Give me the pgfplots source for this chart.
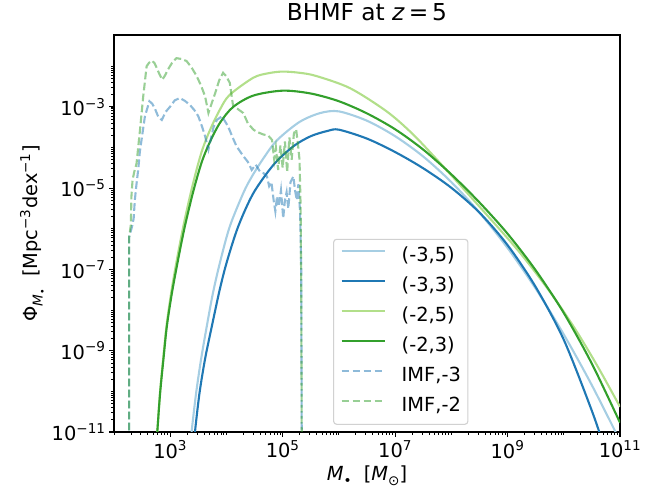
\documentclass[border=0pt]{standalone}
\usepackage{fontspec}
\setmainfont{DejaVu Sans}
\usepackage{graphicx}
\usepackage{pgfplots}
\pgfplotsset{compat=1.18}

\definecolor{lblue}{HTML}{A6CEE3}
\definecolor{dblue}{HTML}{1F78B4}
\definecolor{lgreen}{HTML}{B2DF8A}
\definecolor{dgreen}{HTML}{33A02C}

\newcommand{\sz}{\fontsize{19.4}{23}\selectfont}
\newcommand{\sub}[1]{\raisebox{-0.25em}{\scalebox{0.7}{#1}}}
\newcommand{\tl}[1]{10\textsuperscript{#1}}

\begin{document}
\begin{tikzpicture}
\begin{axis}[
    name=ax,
    xmode=log, ymode=log,
    scale only axis,
    width=506pt, height=397pt,
    xmin=1e2, xmax=1e11,
    ymin=1e-11, ymax=5.888e-2,
    axis line style={line width=1.1pt},
    tick pos=left,
    tick align=outside,
    xtick={1e2,1e3,1e4,1e5,1e6,1e7,1e8,1e9,1e10,1e11},
    ytick={1e-11,1e-10,1e-9,1e-8,1e-7,1e-6,1e-5,1e-4,1e-3,1e-2},
    xticklabel={\relax}, yticklabel={\relax},
    major tick length=2.8pt, minor tick length=2.8pt,
    every tick/.style={black, line width=0.8pt},
    extra x ticks={1e3,1e5,1e7,1e9,1e11},
    extra x tick labels={\tl{3},\tl{5},\tl{7},\tl{9},\tl{11}},
    extra y ticks={1e-11,1e-9,1e-7,1e-5,1e-3},
    extra y tick labels={\tl{−11},\tl{−9},\tl{−7},\tl{−5},\tl{−3}},
    extra tick style={major tick length=4.9pt, every tick/.style={black, line width=1.1pt}},
    xticklabel style={font=\sz},
    yticklabel style={font=\sz},
    title={BHMF at \textit{z}\,=\,5},
    title style={at={(axis description cs:0.5,1)}, anchor=base, yshift=8.3pt,
        font=\fontsize{23.3}{28}\selectfont},
    xlabel={\textit{M}\sub{•}\ \ [\textit{M}\sub{⊙}]},
    xlabel style={at={(axis description cs:0.5,0)}, anchor=center, yshift=-44pt, font=\sz},
    ylabel={Φ\sub{\textit{M}\sub{•}}\ \ [Mpc\textsuperscript{−3}dex\textsuperscript{−1}]},
    ylabel style={at={(axis description cs:-0.160,0.5)}, anchor=center, font=\sz},
    legend cell align=left,
    legend style={at={(0.433,0.018)}, anchor=south west,
        draw=black!18, line width=1.1pt, rounded corners=3pt,
        fill=white, fill opacity=0.8, text opacity=1,
        font=\sz, inner xsep=7pt, inner ysep=8pt,
        nodes={inner sep=0pt, text height=14.5pt, text depth=4.5pt},
        row sep=11pt},
    /tikz/every odd column/.append style={column sep=16pt},
    legend image code/.code={\draw[#1] (0pt,6pt) -- (43pt,6pt);},
]

% BH mass functions
\addplot[lblue, line width=2.1pt, smooth] coordinates {
(2.188e3,2.512e-12) (2.399e3,1e-11) (2.884e3,8.913e-11) (3.548e3,6.310e-10)
(4.467e3,3.981e-9) (5.754e3,2.630e-8) (7.762e3,1.585e-7) (1.148e4,1.148e-6)
(1.995e4,7.586e-6) (2.818e4,1.905e-5) (4.571e4,5.495e-5) (7.943e4,1.514e-4)
(1.995e5,4.266e-4) (4.677e5,7.079e-4) (1e6,7.762e-4) (3.162e6,4.571e-4)
(1e7,1.905e-4) (3.162e7,6.026e-5) (1e8,1.413e-5) (3.162e8,2.512e-6)
(1e9,3.388e-7) (3.162e9,3.388e-8) (1e10,2.512e-9) (3.162e10,1.413e-10)
(1e11,6.026e-12)};
\addlegendentry{(-3,5)}

\addplot[dblue, line width=2.1pt, smooth] coordinates {
(2.512e3,2.512e-12) (2.754e3,1e-11) (3.311e3,8.913e-11) (4.169e3,6.310e-10)
(5.495e3,3.981e-9) (7.586e3,3.162e-8) (1.023e4,1.585e-7) (1.622e4,1.148e-6)
(3.020e4,7.586e-6) (6.918e4,3.802e-5) (1.549e5,1.072e-4) (3.162e5,1.905e-4)
(6.310e5,2.570e-4) (1e6,2.754e-4) (3.162e6,1.660e-4) (1e7,7.762e-5)
(3.162e7,3.090e-5) (1e8,1.023e-5) (3.162e8,2.512e-6) (1e9,3.981e-7)
(3.162e9,3.715e-8) (1e10,1.862e-9) (3.162e10,3.311e-11) (5.623e10,3.162e-12)};
\addlegendentry{(-3,3)}

\addplot[lgreen, line width=2.1pt, smooth] coordinates {
(5.495e2,2.512e-12) (5.888e2,1e-11) (6.607e2,1e-10) (7.586e2,7.586e-10)
(8.710e2,4.786e-9) (1.072e3,3.467e-8) (1.380e3,2.512e-7) (1.820e3,1.738e-6)
(2.570e3,1.380e-5) (3.631e3,7.943e-5) (5.129e3,2.754e-4) (7.762e3,8.913e-4)
(1.148e4,1.995e-3) (3.020e4,5.248e-3) (5.623e4,6.761e-3) (1e5,7.413e-3)
(1.995e5,6.918e-3) (3.981e5,5.754e-3) (1.585e6,2.884e-3) (7.079e6,7.762e-4)
(1.995e7,2.239e-4) (5.495e7,5.129e-5) (2.138e8,6.457e-6) (1.122e9,4.898e-7)
(2.512e9,1.259e-7) (6.310e9,2.291e-8) (1.585e10,3.467e-9) (3.981e10,4.169e-10)
(1e11,4.169e-11)};
\addlegendentry{(-2,5)}

\addplot[dgreen, line width=2.1pt, smooth] coordinates {
(5.495e2,2.512e-12) (5.888e2,1e-11) (6.607e2,8.913e-11) (7.586e2,6.310e-10)
(8.710e2,3.981e-9) (1.072e3,2.630e-8) (1.380e3,1.738e-7) (1.820e3,1.148e-6)
(2.570e3,8.318e-6) (3.631e3,4.365e-5) (5.129e3,1.413e-4) (7.762e3,4.169e-4)
(1.318e4,1e-3) (3.020e4,1.905e-3) (1e5,2.512e-3) (3.162e5,2.138e-3)
(1e6,1.380e-3) (3.162e6,6.918e-4) (1e7,2.818e-4) (3.162e7,8.913e-5)
(1e8,2.188e-5) (3.162e8,4.467e-6) (1e9,7.586e-7) (3.162e9,9.550e-8)
(1e10,8.511e-9) (3.162e10,4.786e-10) (1e11,1.698e-11)};
\addlegendentry{(-2,3)}

% IMF-based estimates
\addplot[dblue, draw opacity=0.5, line width=2.1pt, dash pattern=on 7.7pt off 3.3pt] coordinates {
(186.2,3.162e-12) (186.2,6.310e-7) (208.9,1.122e-6) (223.9,1.820e-6) (234.4,5.012e-6)
(251.2,1.259e-5) (269.2,2.818e-5) (288.4,7.943e-5) (309.0,1.549e-4) (354.8,5.888e-4)
(426.6,1.380e-3) (478.6,1.202e-3) (537.0,8.913e-4) (616.6,5.623e-4) (707.9,4.786e-4)
(831.8,7.586e-4) (1000,1.023e-3) (1202,1.445e-3) (1479,1.660e-3) (1820,1.413e-3)
(2239,1.122e-3) (2692,8.318e-4) (3162,5.888e-4) (3715,3.162e-4) (4169,1.905e-4)
(4786,8.913e-5) (5248,1.585e-4) (5888,3.162e-4) (6761,4.786e-4) (8318,5.888e-4)
(1.072e4,3.311e-4) (1.259e4,1.905e-4) (1.514e4,1.072e-4) (1.995e4,6.166e-5)
(2.399e4,4.467e-5) (2.818e4,2.818e-5) (3.311e4,3.802e-5) (3.981e4,2.512e-5)
(4.571e4,2.344e-5) (5.248e4,1.950e-5) (5.754e4,1.122e-5) (6.310e4,1.413e-5)
(6.918e4,5.012e-6) (7.413e4,2.692e-6) (7.943e4,6.310e-6) (8.511e4,3.548e-6)
(9.333e4,8.913e-6) (1.023e5,1.820e-6) (1.096e5,5.012e-6) (1.175e5,7.943e-6)
(1.259e5,3.162e-6) (1.380e5,1.413e-5) (1.549e5,1.950e-5) (1.660e5,8.913e-6)
(1.778e5,5.129e-6) (1.905e5,1.259e-5) (2.042e5,2.512e-6) (2.138e5,1e-7)
(2.188e5,3.162e-12)};
\addlegendentry{IMF,-3}

\addplot[dgreen, draw opacity=0.5, line width=2.1pt, dash pattern=on 7.7pt off 3.3pt] coordinates {
(186.2,3.162e-12) (186.2,6.310e-7) (199.5,1.259e-6) (204.2,6.310e-6) (213.8,1.585e-5)
(229.1,2.512e-5) (251.2,3.981e-5) (269.2,1e-4) (288.4,2.512e-4) (331.1,1.820e-3)
(380.2,1e-2) (416.9,1.202e-2) (467.7,1.380e-2) (524.8,1.202e-2) (575.4,9.120e-3)
(645.7,6.310e-3) (724.4,4.677e-3) (812.8,6.026e-3) (912.0,8.318e-3) (1072,1.202e-2)
(1288,1.585e-2) (1585,1.514e-2) (1950,1.349e-2) (2399,9.333e-3) (2951,5.754e-3)
(3548,3.311e-3) (4169,1.820e-3) (4786,7.079e-4) (5495,1.259e-3) (6310,2.188e-3)
(7413,4.467e-3) (8710,6.918e-3) (1e4,5.623e-3) (1.148e4,3.890e-3) (1.318e4,1.023e-3)
(1.585e4,8.913e-4) (1.995e4,7.079e-4) (2.399e4,3.981e-4) (3.020e4,2.754e-4)
(3.548e4,2.399e-4) (4.571e4,2.089e-4) (5.495e4,1.995e-4) (6.457e4,1.549e-4)
(7.079e4,5.012e-5) (7.586e4,1e-4) (8.318e4,2.818e-5) (9.120e4,1.122e-4) (1e5,3.162e-5)
(1.096e5,1.413e-4) (1.202e5,2.512e-5) (1.318e5,1.778e-4) (1.445e5,5.012e-5)
(1.585e5,2.239e-4) (1.738e5,2.818e-4) (1.862e5,1.259e-4) (1.995e5,5.012e-5)
(2.089e5,3.162e-6) (2.138e5,3.162e-8) (2.188e5,3.162e-12)};
\addlegendentry{IMF,-2}

\end{axis}
\pgfresetboundingbox
\path[use as bounding box] ([shift={(-114pt,-62pt)}]ax.south west) rectangle ([shift={(34pt,35pt)}]ax.north east);
\end{tikzpicture}
\end{document}
